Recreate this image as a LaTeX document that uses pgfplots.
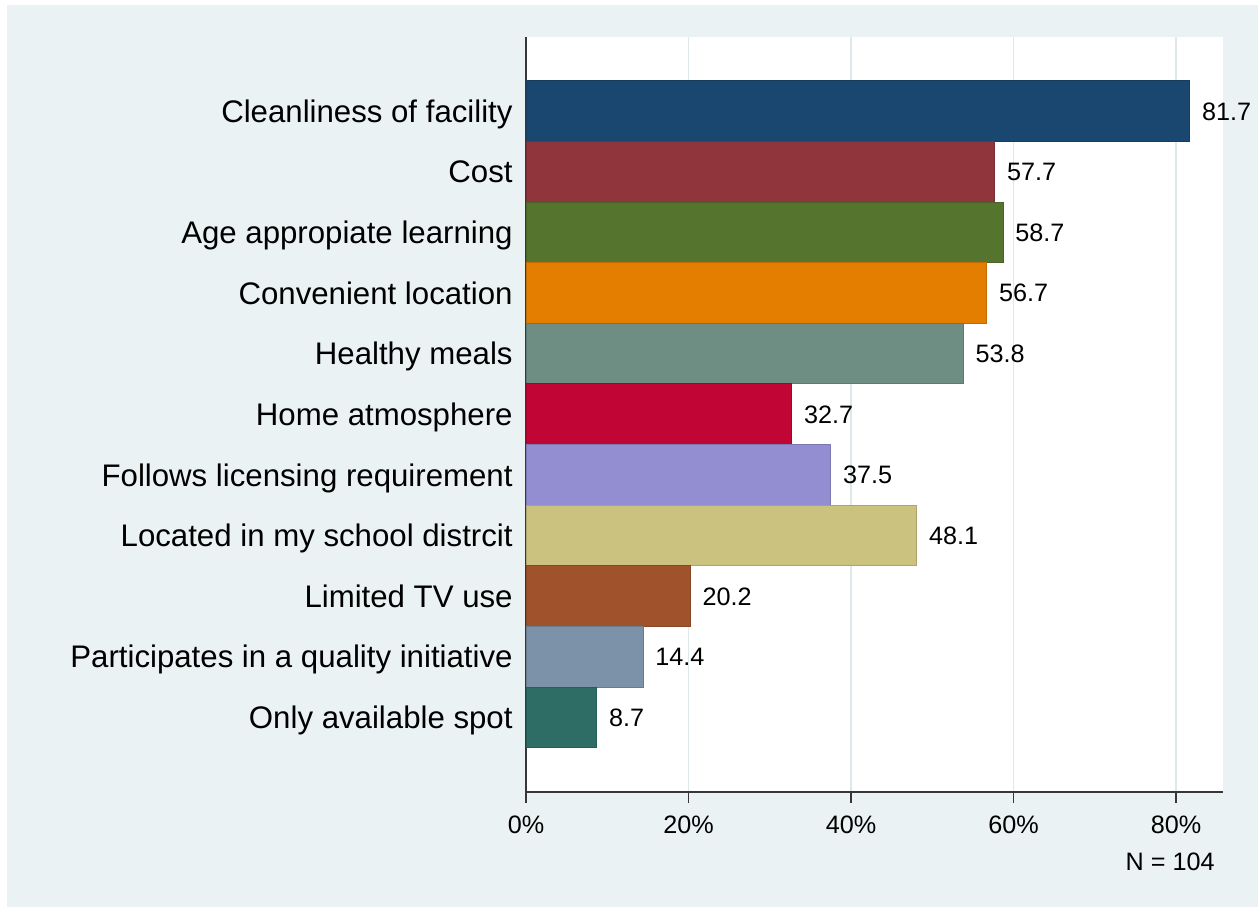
\documentclass[border=0pt]{standalone}
\usepackage{pgfplots}
\pgfplotsset{compat=1.18}
\usepackage{fontspec}
\setmainfont{Liberation Sans}

% Stata s2color palette
\definecolor{bgblue}{RGB}{234,242,243}
\definecolor{gridc}{RGB}{222,231,233}
\definecolor{axisc}{RGB}{55,55,55}
\definecolor{cnavy}{RGB}{26,71,111}
\definecolor{cmaroon}{RGB}{144,53,59}
\definecolor{cforest}{RGB}{85,117,47}
\definecolor{cdkorange}{RGB}{227,126,0}
\definecolor{cteal}{RGB}{110,142,132}
\definecolor{ccranberry}{RGB}{193,5,52}
\definecolor{clavender}{RGB}{147,141,210}
\definecolor{ckhaki}{RGB}{202,194,126}
\definecolor{csienna}{RGB}{160,82,45}
\definecolor{cemidblue}{RGB}{123,146,168}
\definecolor{cemerald}{RGB}{45,109,102}

\begin{document}
\begin{tikzpicture}
    % outer background
    \fill[white] (-263pt,-57.5pt) rectangle (366pt,396pt);
    \fill[bgblue] (-259.5pt,-57.5pt) rectangle (366pt,393.5pt);

    \begin{axis}[
        scale only axis,
        width=348.35pt,
        height=377.5pt,
        xbar,
        bar width=1,
        bar shift=0pt,
        y dir=reverse,
        xmin=0, xmax=85.75,
        ymin=-1.221, ymax=11.231,
        axis background/.style={fill=white},
        axis x line*=bottom,
        axis y line*=left,
        axis line style={-, draw=axisc, line width=0.7pt},
        xtick={0,20,40,60,80},
        xticklabel={\pgfmathprintnumber{\tick}\%},
        xtick style={draw=axisc, line width=0.7pt},
        tick align=outside,
        major tick length=5.5pt,
        xmajorgrids=true,
        grid style={draw=gridc, line width=0.6pt},
        xticklabel style={font=\fontsize{12.6}{14}\selectfont, yshift=-3pt},
        ytick={0,...,10},
        ytick style={draw=none},
        yticklabels={
            Cleanliness of facility,
            Cost,
            Age appropiate learning,
            Convenient location,
            Healthy meals,
            Home atmosphere,
            Follows licensing requirement,
            Located in my school distrcit,
            Limited TV use,
            Participates in a quality initiative,
            Only available spot},
        yticklabel style={font=\fontsize{15.6}{18}\selectfont, inner sep=0pt,
            text height=11.2pt, text depth=0pt, xshift=-1pt},
        /pgf/number format/assume math mode=true,
        nodes near coords={\pgfmathprintnumber[fixed,precision=1,fixed zerofill]{\pgfplotspointmeta}},
        every node near coord/.append style={font=\fontsize{12.6}{14}\selectfont, inner sep=0pt,
            text height=9pt, text depth=0pt, xshift=6pt, anchor=west, black},
        clip=false,
        ]

        \addplot[fill=cnavy, draw=cnavy!85!black] coordinates {(81.7,0)};
        \addplot[fill=cmaroon, draw=cmaroon!85!black] coordinates {(57.7,1)};
        \addplot[fill=cforest, draw=cforest!85!black] coordinates {(58.7,2)};
        \addplot[fill=cdkorange, draw=cdkorange!85!black] coordinates {(56.7,3)};
        \addplot[fill=cteal, draw=cteal!85!black] coordinates {(53.8,4)};
        \addplot[fill=ccranberry, draw=ccranberry!85!black] coordinates {(32.7,5)};
        \addplot[fill=clavender, draw=clavender!85!black] coordinates {(37.5,6)};
        \addplot[fill=ckhaki, draw=ckhaki!85!black] coordinates {(48.1,7)};
        \addplot[fill=csienna, draw=csienna!85!black] coordinates {(20.2,8)};
        \addplot[fill=cemidblue, draw=cemidblue!85!black] coordinates {(14.4,9)};
        \addplot[fill=cemerald, draw=cemerald!85!black] coordinates {(8.7,10)};
    \end{axis}

    \node[anchor=east, inner sep=0pt, font=\fontsize{12.6}{14}\selectfont] at (344.5pt,-35pt) {N = 104};
\end{tikzpicture}
\end{document}
